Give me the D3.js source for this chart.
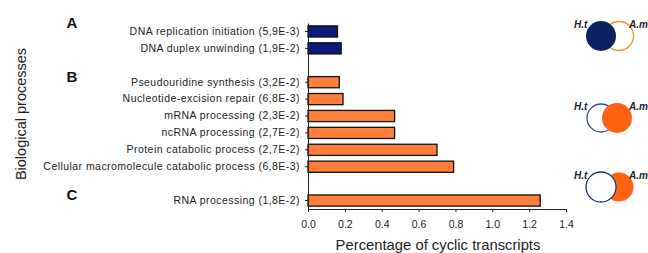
<!DOCTYPE html>
<html>
<head>
<meta charset="utf-8">
<script src="https://cdn.jsdelivr.net/npm/d3@7"></script>
<style>
  body { margin: 0; background: #fff; }
  svg { display: block; font-family: Arial, "Liberation Sans", sans-serif; }
</style>
</head>
<body>
<div class="container"></div>
<script>
// slots of the y axis, the gap slots keep the space between groups
var slots = ['s0', 's1', 'gap1', 's3', 's4', 's5', 's6', 's7', 's8', 'gap2', 's10'];
var categories = [
    'DNA replication initiation (5,9E-3)',
    'DNA duplex unwinding (1,9E-2)',
    'Pseudouridine synthesis (3,2E-2)',
    'Nucleotide-excision repair (6,8E-3)',
    'mRNA processing (2,3E-2)',
    'ncRNA processing (2,7E-2)',
    'Protein catabolic process (2,7E-2)',
    'Cellular macromolecule catabolic process (6,8E-3)',
    'RNA processing (1,8E-2)'
];
var categorySlots = ['s0', 's1', 's3', 's4', 's5', 's6', 's7', 's8', 's10'];
var values = [0.16, 0.18, 0.17, 0.19, 0.47, 0.47, 0.70, 0.79, 1.26];
var groups = ['A', 'A', 'B', 'B', 'B', 'B', 'B', 'B', 'C'];
var groupLabels = [
    {name: 'A', slot: 's0'},
    {name: 'B', slot: 's3'},
    {name: 'C', slot: 's10'}
];
var xTicks = [0, 0.2, 0.4, 0.6, 0.8, 1.0, 1.2, 1.4];

var translate = function (x, y) {
    return 'translate(' + x + ', ' + y + ')';
};

var visualize = function () {
    const WIDTH = 648;
    const HEIGHT = 253;
    const LEFT = 308, RIGHT = 566, TOP = 23, BOTTOM = 209;
    const NAVY = '#0c1a7c';
    const ORANGE = '#ff7f3a';

    var svg = d3.select('.container').append('svg')
        .attr('width', WIDTH)
        .attr('height', HEIGHT);

    var xScale = d3.scaleLinear().domain([0, 1.4]).range([LEFT, RIGHT]);
    var yScale = d3.scaleBand().domain(slots).range([TOP, BOTTOM]).paddingInner(0.34).paddingOuter(0.17);

    var data = categories.map(function (c, i) {
        return {name: c, slot: categorySlots[i], value: values[i], group: groups[i]};
    });

    // bars
    svg.append('g').selectAll('rect')
        .data(data)
        .enter()
        .append('rect')
        .attr('x', xScale(0))
        .attr('y', function (d) { return yScale(d.slot); })
        .attr('width', function (d) { return xScale(d.value) - xScale(0); })
        .attr('height', yScale.bandwidth())
        .attr('fill', function (d) { return d.group === 'A' ? NAVY : ORANGE; })
        .attr('stroke', '#111')
        .attr('stroke-width', 1.3);

    // x axis
    var xAxis = d3.axisBottom(xScale)
        .tickValues(xTicks)
        .tickFormat(d3.format('.1f'))
        .tickSizeInner(3)
        .tickSizeOuter(3);
    var gx = svg.append('g').attr('transform', translate(0, BOTTOM)).call(xAxis);
    gx.selectAll('text').attr('font-size', 10.5).attr('fill', '#222').attr('dy', '1.2em');
    gx.select('.domain').attr('stroke', '#222');
    gx.selectAll('.tick line').attr('stroke', '#222');

    // y axis (ticks only on real categories)
    var yAxis = d3.axisLeft(yScale)
        .tickValues(categorySlots)
        .tickFormat(function (s) { return categories[categorySlots.indexOf(s)]; })
        .tickSizeInner(3)
        .tickSizeOuter(0)
        .tickPadding(5);
    var gy = svg.append('g').attr('transform', translate(LEFT, 0)).call(yAxis);
    gy.selectAll('text').attr('font-size', 10.5).attr('fill', '#222').attr('letter-spacing', 0.45);
    gy.select('.domain').attr('stroke', '#222');
    gy.selectAll('.tick line').attr('stroke', '#222');

    // group letters, sitting a little above their first row
    svg.append('g').selectAll('text')
        .data(groupLabels)
        .enter()
        .append('text')
        .attr('x', 72)
        .attr('y', function (d) { return yScale(d.slot) + yScale.bandwidth() / 2 - (d.name === 'A' ? 9 : 6); })
        .attr('text-anchor', 'middle')
        .attr('dominant-baseline', 'central')
        .attr('font-size', 15)
        .attr('font-weight', 'bold')
        .attr('fill', '#111')
        .text(function (d) { return d.name; });

    // axis titles
    svg.append('text')
        .attr('x', 438)
        .attr('y', 250)
        .attr('text-anchor', 'middle')
        .attr('font-size', 14.8)
        .attr('fill', '#222')
        .text('Percentage of cyclic transcripts');

    svg.append('text')
        .attr('transform', translate(26, 114) + ' rotate(-90)')
        .attr('text-anchor', 'middle')
        .attr('font-size', 14.5)
        .attr('fill', '#222')
        .text('Biological processes');

    // venn legends
    var venns = [
        {y: 36, ht: 'fill'},
        {y: 118, ht: 'line'},
        {y: 187, ht: 'white'}
    ];
    var vennG = svg.append('g');
    venns.forEach(function (v) {
        var g = vennG.append('g').attr('transform', translate(0, v.y));
        var hx = 601, ax = 619;
        if (v.ht === 'fill') {
            g.append('circle').attr('cx', ax).attr('cy', 0).attr('r', 14.5)
                .attr('fill', 'none').attr('stroke', '#f59032').attr('stroke-width', 1.3);
            g.append('circle').attr('cx', hx).attr('cy', 0).attr('r', 15)
                .attr('fill', '#0b2262');
        } else if (v.ht === 'line') {
            g.append('circle').attr('cx', hx).attr('cy', 0).attr('r', 14)
                .attr('fill', 'none').attr('stroke', '#3a4d8a').attr('stroke-width', 1.3);
            g.append('circle').attr('cx', ax - 2).attr('cy', 0).attr('r', 15)
                .attr('fill', '#ff6210');
        } else {
            g.append('circle').attr('cx', ax).attr('cy', 0).attr('r', 14.5)
                .attr('fill', '#ff6210');
            g.append('circle').attr('cx', hx).attr('cy', 0).attr('r', 15)
                .attr('fill', '#fff').attr('stroke', '#1f3575').attr('stroke-width', 1.3);
        }
        g.append('text').attr('x', 574).attr('y', -8.5)
            .attr('font-size', 10).attr('font-style', 'italic').attr('font-weight', 'bold')
            .attr('fill', '#222').text('H.t');
        g.append('text').attr('x', 629).attr('y', -8.5)
            .attr('font-size', 10).attr('font-style', 'italic').attr('font-weight', 'bold')
            .attr('fill', '#222').text('A.m');
    });
};

window.onload = visualize;
</script>
</body>
</html>
